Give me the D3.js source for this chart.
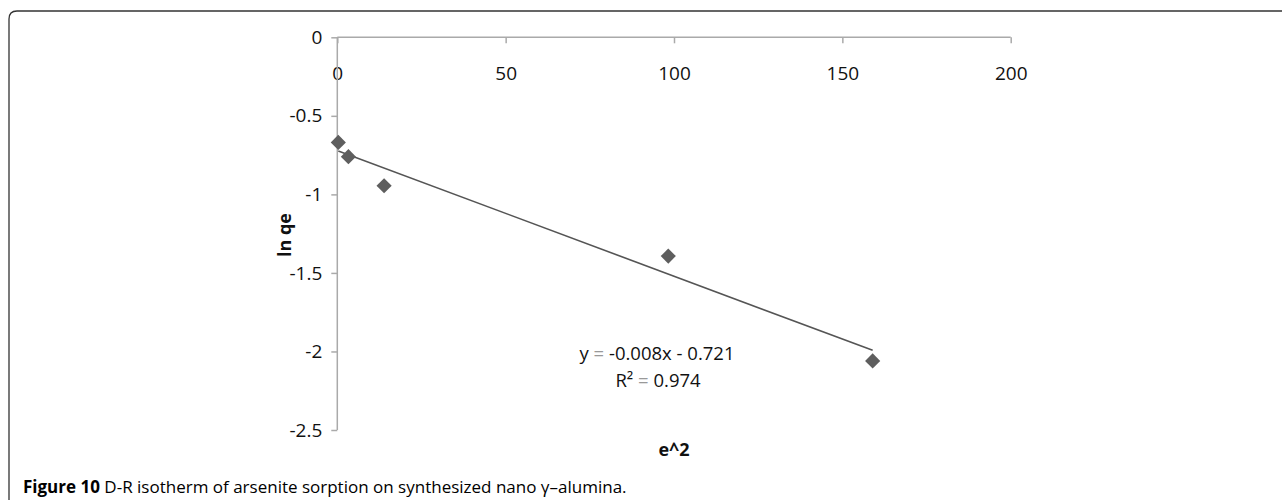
<!DOCTYPE html>
<html><head><meta charset="utf-8">
<script src="https://cdn.jsdelivr.net/npm/d3@7"></script>
<style>body{margin:0;background:#fff}svg{display:block}</style>
</head><body><svg id="c" width="1282" height="500"></svg>
<script>
const xValues = [0.3, 3.3, 13.9, 98.3, 159];
const yValues = [-0.669, -0.76, -0.945, -1.393, -2.06];
const xTicks = [0, 50, 100, 150, 200];
const yTicks = [0, -0.5, -1, -1.5, -2, -2.5];
const trend = {slope: -0.008, intercept: -0.721};
const eqParts = [["y", " = ", "-0.008x - 0.721"], ["R²", " = ", "0.974"]];

const svg = d3.select("#c");
const x = d3.scaleLinear().domain([0, 200]).range([337.3, 1010.7]);
const y = d3.scaleLinear().domain([0, -2.5]).range([37.3, 430]);
const font = "'Open Sans', sans-serif";

// border
svg.append("path").attr("d","M9,500 V19 Q9,11 17,11 H1282")
  .attr("fill","none").attr("stroke","#333").attr("stroke-width",1.3);

const gx = svg.append("g").attr("transform",`translate(0,${y(0)})`)
  .call(d3.axisBottom(x).tickValues(xTicks).tickSize(6).tickSizeOuter(0).tickPadding(23).tickFormat(d3.format("d")));
const gy = svg.append("g").attr("transform",`translate(${x(0)},0)`)
  .call(d3.axisLeft(y).tickValues(yTicks).tickSize(6).tickSizeOuter(0).tickPadding(9).tickFormat(d=> d===0?"0":String(d)));
[gx,gy].forEach(g=>{
  g.selectAll(".domain,.tick line").attr("stroke","#aaa").attr("stroke-width",1.5);
  g.selectAll("text").attr("font-family",font).attr("font-size",19).attr("fill","#111");
});
gx.select(".domain").attr("d",`M${x(0)},0H${x(200)}`);
gy.select(".domain").attr("d",`M0,${y(0)}V${y(-2.5)}`);

// trend line
const x0 = d3.min(xValues), x1 = d3.max(xValues);
svg.append("line")
  .attr("x1",x(x0)).attr("y1",y(trend.slope*x0+trend.intercept))
  .attr("x2",x(x1)).attr("y2",y(trend.slope*x1+trend.intercept))
  .attr("stroke","#555").attr("stroke-width",1.6);

// points
svg.selectAll(".pt").data(xValues.map((v,i)=>[v,yValues[i]])).enter()
  .append("path").attr("class","pt")
  .attr("d", d3.symbol().type(d3.symbolSquare).size(115)())
  .attr("transform",d=>`translate(${x(d[0])},${y(d[1])}) rotate(45)`)
  .attr("fill","#5e5e5e");

// equation
const eqPos = [[657,360],[658,387]];
eqParts.forEach((parts,i)=>{
  const t = svg.append("text").attr("x",eqPos[i][0]).attr("y",eqPos[i][1])
    .attr("font-family",font).attr("font-size",18.5).attr("fill","#111").attr("text-anchor","middle");
  t.append("tspan").text(parts[0]);
  t.append("tspan").attr("fill","#999").text(parts[1]);
  t.append("tspan").text(parts[2]);
});

// axis titles
svg.append("text").attr("transform","translate(291,235) rotate(-90)")
  .attr("text-anchor","middle").attr("font-family",font).attr("font-weight","bold").attr("font-size",18).attr("fill","#111").text("ln qe");
svg.append("text").attr("x",674).attr("y",456).attr("text-anchor","middle")
  .attr("font-family",font).attr("font-weight","bold").attr("font-size",18).attr("fill","#111").text("e^2");

// caption
const cap = svg.append("text").attr("x",23).attr("y",493).attr("font-family",font).attr("font-size",17).attr("fill","#000");
cap.append("tspan").attr("font-weight","bold").text("Figure 10");
cap.append("tspan").text(" D-R isotherm of arsenite sorption on synthesized nano γ–alumina.");
</script></body></html>
